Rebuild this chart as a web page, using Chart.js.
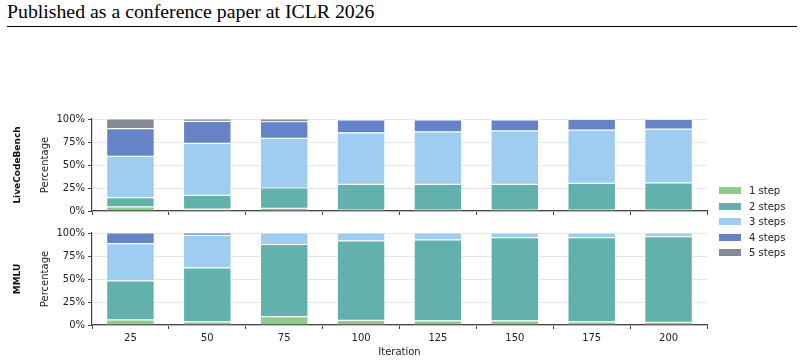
<!DOCTYPE html>
<html>
<head>
    <meta charset="UTF-8">
    <title>Reasoning steps per iteration</title>
    <script src="https://cdn.jsdelivr.net/npm/chart.js"></script>
    <style>
        body {
            margin: 0;
            width: 804px;
            height: 362px;
            background: #fff;
            position: relative;
            overflow: hidden;
            font-family: "DejaVu Sans", sans-serif;
        }

        .header {
            position: absolute;
            left: 7px;
            top: 0px;
            font-family: "Liberation Serif", "Times New Roman", serif;
            font-size: 19.8px;
            color: #000;
        }

        .header-rule {
            position: absolute;
            left: 7px;
            right: 7px;
            top: 26px;
            border-top: 1px solid #000;
        }

        canvas {
            position: absolute;
            left: 0;
        }

        #legend {
            position: absolute;
            left: 719px;
            top: 183px;
            font-size: 10px;
            color: #222;
        }

        .legend-item {
            height: 15.5px;
            display: flex;
            align-items: center;
        }

        .legend-swatch {
            width: 22px;
            height: 7px;
            margin-right: 8px;
        }
    </style>
</head>

<body>
    <div class="header">Published as a conference paper at ICLR 2026</div>
    <div class="header-rule"></div>

    <canvas id="lcbChart" width="804" height="112" style="top:108px"></canvas>
    <canvas id="mmluChart" width="804" height="140" style="top:222px"></canvas>

    <div id="legend"></div>

    <script>
        // Data (percent of samples per step count)
        var iterations = ['25', '50', '75', '100', '125', '150', '175', '200'];
        var stepLabels = ['1 step', '2 steps', '3 steps', '4 steps', '5 steps'];
        var stepColors = ['#8ecb8c', '#62b1ac', '#9ecdf1', '#6683c8', '#858994'];
        var yTicks = [0, 25, 50, 75, 100];

        var lcbStep1 = [4.5, 2, 3, 1, 1, 1, 1, 1];
        var lcbStep2 = [10, 15, 22, 28, 28, 28, 29, 29.5];
        var lcbStep3 = [45, 56.5, 54, 56, 57, 58, 58, 58.5];
        var lcbStep4 = [30, 24, 18, 14, 13, 12, 11.5, 10.5];
        var lcbStep5 = [10.5, 2.5, 3, 1, 1, 1, 0.5, 0.5];

        var mmluStep1 = [5.5, 3.5, 9, 5, 4.5, 4.5, 3.5, 3];
        var mmluStep2 = [42.5, 58.5, 78.5, 86.5, 88, 90.5, 91.5, 93];
        var mmluStep3 = [40.5, 35.5, 12.5, 8.5, 7.5, 5, 5, 4];
        var mmluStep4 = [11.5, 2.5, 0, 0, 0, 0, 0, 0];
        var mmluStep5 = [0, 0, 0, 0, 0, 0, 0, 0];

        Chart.defaults.font.family = '"DejaVu Sans", sans-serif';
        Chart.defaults.font.size = 10;
        Chart.defaults.color = '#222';

        var spineColor = '#444';

        function makeDatasets(series) {
            return series.map(function (values, i) {
                return {
                    label: stepLabels[i],
                    data: values,
                    backgroundColor: stepColors[i],
                    borderColor: 'rgba(255,255,255,0.7)',
                    borderWidth: 0.6,
                    borderSkipped: false,
                    categoryPercentage: 1,
                    barPercentage: 0.62
                };
            });
        }

        // draws the rotated side labels (benchmark name + "Percentage")
        var sideLabels = {
            id: 'sideLabels',
            afterDraw: function (chart, args, opts) {
                var ctx = chart.ctx;
                var area = chart.chartArea;
                var midY = (area.top + area.bottom) / 2;
                ctx.save();
                ctx.textAlign = 'center';
                ctx.textBaseline = 'middle';

                ctx.save();
                ctx.translate(18, midY);
                ctx.rotate(-Math.PI / 2);
                ctx.font = 'bold 9px "DejaVu Sans", sans-serif';
                ctx.fillStyle = '#111';
                ctx.fillText(opts.name, 0, 0);
                ctx.restore();

                ctx.save();
                ctx.translate(45, midY);
                ctx.rotate(-Math.PI / 2);
                ctx.font = '10px "DejaVu Sans", sans-serif';
                ctx.fillStyle = '#222';
                ctx.fillText('Percentage', 0, 0);
                ctx.restore();

                ctx.restore();
            }
        };

        function makeChart(id, name, series, showX) {
            var ctx = document.getElementById(id).getContext('2d');
            return new Chart(ctx, {
                type: 'bar',
                data: {
                    labels: iterations,
                    datasets: makeDatasets(series)
                },
                plugins: [sideLabels],
                options: {
                    responsive: false,
                    animation: false,
                    layout: {
                        padding: { top: 11, right: 97, left: 0, bottom: 0 }
                    },
                    plugins: {
                        legend: { display: false },
                        tooltip: { enabled: false },
                        sideLabels: { name: name }
                    },
                    scales: {
                        x: {
                            stacked: true,
                            grid: {
                                drawOnChartArea: false,
                                drawTicks: true,
                                tickLength: 4,
                                tickColor: spineColor
                            },
                            border: { display: true, color: spineColor, width: 1.2 },
                            ticks: {
                                padding: 3,
                                color: '#222',
                                callback: function (value, index) {
                                    return showX ? iterations[index] : '';
                                }
                            },
                            title: {
                                display: showX,
                                text: 'Iteration',
                                color: '#222',
                                padding: { top: 0, bottom: 4 }
                            },
                            afterFit: function (scale) {
                                scale.height = showX ? 37 : 6;
                            }
                        },
                        y: {
                            stacked: true,
                            min: 0,
                            max: 100,
                            afterBuildTicks: function (scale) {
                                scale.ticks = yTicks.map(function (v) { return { value: v }; });
                            },
                            grid: {
                                color: '#e6e6e6',
                                lineWidth: 1,
                                drawTicks: true,
                                tickLength: 4,
                                tickColor: spineColor
                            },
                            border: { display: true, color: spineColor, width: 1.2 },
                            ticks: {
                                padding: 3,
                                color: '#222',
                                callback: function (value) {
                                    return value + '%';
                                }
                            },
                            afterFit: function (scale) {
                                scale.width = 92;
                            }
                        }
                    }
                }
            });
        }

        var lcbChart = makeChart('lcbChart', 'LiveCodeBench',
            [lcbStep1, lcbStep2, lcbStep3, lcbStep4, lcbStep5], false);
        var mmluChart = makeChart('mmluChart', 'MMLU',
            [mmluStep1, mmluStep2, mmluStep3, mmluStep4, mmluStep5], true);

        // shared legend on the right
        var legend = document.getElementById('legend');
        stepLabels.forEach(function (label, i) {
            var item = document.createElement('div');
            item.className = 'legend-item';
            var sw = document.createElement('span');
            sw.className = 'legend-swatch';
            sw.style.background = stepColors[i];
            var txt = document.createElement('span');
            txt.textContent = label;
            item.appendChild(sw);
            item.appendChild(txt);
            legend.appendChild(item);
        });
    </script>
</body>
</html>
